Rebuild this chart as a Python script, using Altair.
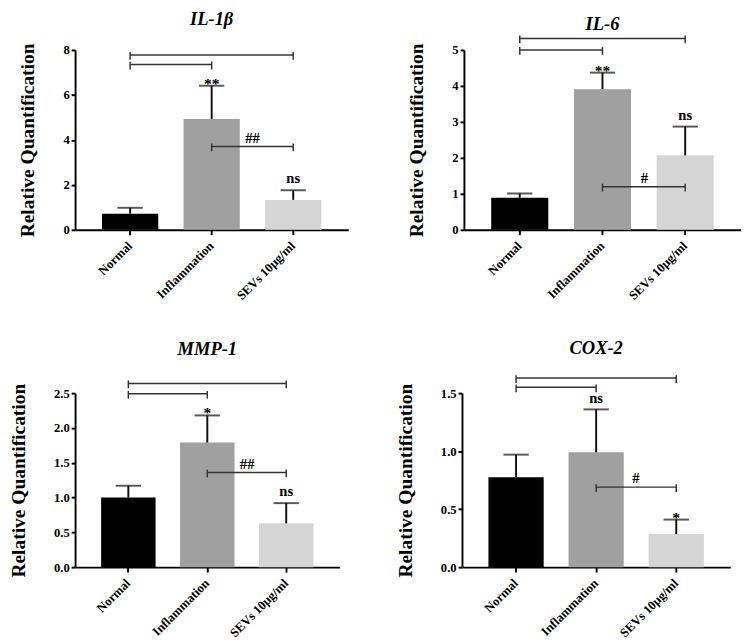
import altair as alt
import pandas as pd

categories = ["Normal", "Inflammation", "SEVs 10μg/ml"]
bar_colors = ["#000000", "#a0a0a0", "#d5d5d5"]

genes = ["IL-1β", "IL-6", "MMP-1", "COX-2"]

il1b_mean = [0.72, 4.93, 1.33]
il1b_sd = [0.26, 1.48, 0.43]
il6_mean = [0.89, 3.91, 2.07]
il6_sd = [0.12, 0.46, 0.80]
mmp1_mean = [1.00, 1.79, 0.63]
mmp1_sd = [0.17, 0.39, 0.29]
cox2_mean = [0.775, 0.99, 0.285]
cox2_sd = [0.195, 0.37, 0.125]

il1b_ticks = [0, 2, 4, 6, 8]
il6_ticks = [0, 1, 2, 3, 4, 5]
mmp1_ticks = [0, 0.5, 1.0, 1.5, 2.0, 2.5]
cox2_ticks = [0, 0.5, 1.0, 1.5]

# comparison brackets: (from, to, height)
il1b_brackets = [("Normal", "SEVs 10μg/ml", 7.78), ("Normal", "Inflammation", 7.35),
                 ("Inflammation", "SEVs 10μg/ml", 3.71)]
il6_brackets = [("Normal", "SEVs 10μg/ml", 5.32), ("Normal", "Inflammation", 5.0),
                ("Inflammation", "SEVs 10μg/ml", 1.20)]
mmp1_brackets = [("Normal", "SEVs 10μg/ml", 2.64), ("Normal", "Inflammation", 2.49),
                 ("Inflammation", "SEVs 10μg/ml", 1.36)]
cox2_brackets = [("Normal", "SEVs 10μg/ml", 1.63), ("Normal", "Inflammation", 1.55),
                 ("Inflammation", "SEVs 10μg/ml", 0.69)]

# significance vs Normal (per bar) and vs Inflammation (bracket label)
il1b_sig = ["", "**", "ns"]
il6_sig = ["", "**", "ns"]
mmp1_sig = ["", "*", "ns"]
cox2_sig = ["", "ns", "*"]
il1b_hash = "##"
il6_hash = "#"
mmp1_hash = "##"
cox2_hash = "#"

FONT = "Liberation Serif"


def panel(gene, means, sds, ticks, fmt, brackets, sig, hash_label, w, h, title_offset, hash_dx):
    bars = pd.DataFrame({
        "cat": categories,
        "mean": means,
        "top": [m + s for m, s in zip(means, sds)],
        "sig": sig,
    })
    br = pd.DataFrame([{"c1": a, "c2": b, "y": y} for a, b, y in brackets])
    ends = pd.DataFrame([{"cat": c, "y": y} for a, b, y in brackets for c in (a, b)])
    hashdf = pd.DataFrame([{"cat": brackets[2][0], "y": brackets[2][2], "label": hash_label}])

    xscale = alt.Scale(domain=categories, paddingInner=0.31, paddingOuter=0.33)
    yscale = alt.Scale(domain=[0, ticks[-1]], nice=False, zero=True)

    xaxis = alt.Axis(title=None, labelAngle=-45, labelAlign="right", labelBaseline="middle",
                     labelFont=FONT, labelFontSize=13, labelFontWeight="bold", labelColor="black",
                     domainColor="black", domainWidth=2, tickColor="black", tickWidth=2,
                     tickSize=5, labelPadding=9, grid=False)
    yaxis = alt.Axis(title="Relative Quantification", values=ticks, format=fmt,
                     titleFont=FONT, titleFontSize=20, titleFontWeight="bold", titleColor="black",
                     titlePadding=26, labelFont=FONT, labelFontSize=13, labelFontWeight="bold",
                     labelColor="black", domainColor="black", domainWidth=2, tickColor="black",
                     tickWidth=2, tickSize=4, labelPadding=2, grid=False)

    def X(field):
        return alt.X(field, sort=categories, scale=xscale, axis=xaxis)

    def Y(field):
        return alt.Y(field, scale=yscale, axis=yaxis)

    base_bars = alt.Chart(bars)
    bar = base_bars.mark_bar().encode(
        x=X("cat:N"),
        y=Y("mean:Q"),
        color=alt.Color("cat:N", scale=alt.Scale(domain=categories, range=bar_colors), legend=None),
    )
    err = base_bars.mark_rule(color="#111111", strokeWidth=2).encode(
        x=X("cat:N"), y=Y("mean:Q"), y2="top:Q",
    )
    cap = base_bars.mark_tick(color="#111111", thickness=2, size=26).encode(
        x=X("cat:N"), y=Y("top:Q"),
    )
    stars = base_bars.transform_filter("indexof(datum.sig, '*') >= 0").mark_text(
        font=FONT, fontSize=16, fontWeight="bold", color="black", baseline="alphabetic", dy=3
    ).encode(x=X("cat:N"), y=Y("top:Q"), text="sig:N")
    ns = base_bars.transform_filter("datum.sig == 'ns'").mark_text(
        font=FONT, fontSize=15, fontWeight="bold", color="black", baseline="alphabetic", dy=-7
    ).encode(x=X("cat:N"), y=Y("top:Q"), text="sig:N")
    bracket = alt.Chart(br).mark_rule(color="#333333", strokeWidth=1.5).encode(
        x=X("c1:N"), x2="c2:N", y=Y("y:Q"),
    )
    bracket_ends = alt.Chart(ends).mark_rule(color="#333333", strokeWidth=1.5,
                                             yOffset=-3, y2Offset=5).encode(
        x=X("cat:N"), y=Y("y:Q"), y2="y:Q",
    )
    hashes = alt.Chart(hashdf).mark_text(
        font=FONT, fontSize=15, fontWeight="bold", color="black", baseline="alphabetic",
        dy=-4, dx=hash_dx
    ).encode(x=X("cat:N"), y=Y("y:Q"), text="label:N")

    return alt.layer(bar, err, cap, bracket, bracket_ends, stars, ns, hashes).properties(
        width=w, height=h,
        title=alt.TitleParams(text=gene, font=FONT, fontSize=19, fontWeight="bold",
                              fontStyle="italic", color="black", offset=title_offset,
                              anchor="middle"),
    )


p1 = panel(genes[0], il1b_mean, il1b_sd, il1b_ticks, "d", il1b_brackets, il1b_sig, il1b_hash,
           281, 185, 14, 42)
p2 = panel(genes[1], il6_mean, il6_sd, il6_ticks, "d", il6_brackets, il6_sig, il6_hash,
           285, 185, 0.5, 43)
p3 = panel(genes[2], mmp1_mean, mmp1_sd, mmp1_ticks, ".1f", mmp1_brackets, mmp1_sig, mmp1_hash,
           272, 179, 21.5, 41)
p4 = panel(genes[3], cox2_mean, cox2_sd, cox2_ticks, ".1f", cox2_brackets, cox2_sig, cox2_hash,
           276, 179, 17.5, 41)

row1 = alt.hconcat(p1, p2, spacing=60)
row2 = alt.hconcat(p3, p4, spacing=57)
chart = alt.vconcat(row1, row2, spacing=37).properties(
    padding={"top": -7, "left": 0, "right": 0, "bottom": 0}
).configure_view(stroke=None)

chart.save("out.html", embed_options={"renderer": "svg", "actions": False})
